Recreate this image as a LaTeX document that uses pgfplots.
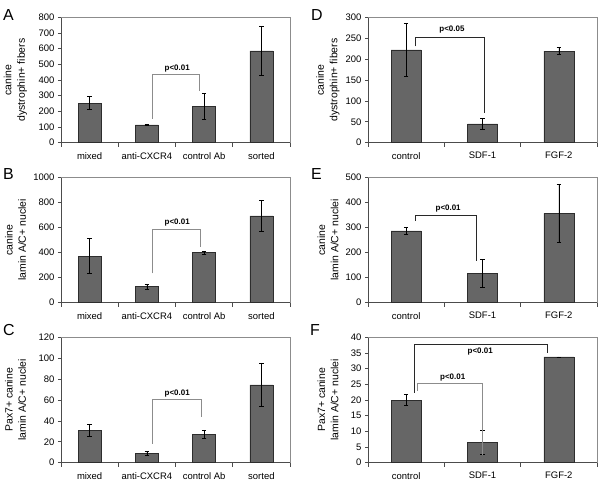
\documentclass[border=0pt]{standalone}
\usepackage{pgfplots}
\pgfplotsset{compat=1.18}
\usepackage{pgfplotstable}
\usepackage{fontspec}
\setmainfont{Liberation Sans}
\definecolor{barfill}{RGB}{102,102,102}
\definecolor{baredge}{RGB}{45,45,45}
\definecolor{brgray}{RGB}{140,140,140}
\definecolor{brdark}{RGB}{40,40,40}

\pgfplotstableread{
x y e
0 252 42
1 113 3
2 230 82
3 586 156
}\dataA
\pgfplotstableread{
x y e
0 372 139
1 128 21
2 398 12
3 691 123
}\dataB
\pgfplotstableread{
x y e
0 31 5.7
1 9 2
2 27 4
3 74.5 21
}\dataC
\pgfplotstableread{
x y e
0 222 63
1 45 14
2 219 8
}\dataD
\pgfplotstableread{
x y e
0 286 15
1 117 56
2 356 115
}\dataE
\pgfplotstableread{
x y e
0 19.9 1.75
1 6.4 3.8
2 33.7 0
}\dataF

\pgfplotsset{
  panel/.style={
    scale only axis, width=229bp, height=125.5bp,
    ymin=0, clip=false,
    axis x line*=bottom, axis y line*=left,
    axis line style={black!70, line width=0.6pt, -},
    tick style={black!70, line width=0.6pt},
    tick align=outside,
    major tick length=3bp, minor tick length=4bp,
    major x tick style={draw=none},
    /pgf/number format/assume math mode=true,
    /pgf/number format/1000 sep={},
    scaled y ticks=false,
    tick label style={font=\fontsize{9.5}{11}\selectfont},
    xticklabel style={yshift=-3bp},
  },
  leftcol/.style={panel, xmin=-0.5, xmax=3.5, xtick={0,1,2,3},
    minor xtick={-0.5,0.5,1.5,2.5,3.5},
    xticklabels={mixed,anti-CXCR4,control Ab,sorted},
    every axis y label/.style={at={([xshift=-45.5bp]axis description cs:0,0.5)}, rotate=90,
      anchor=center, align=center, font=\fontsize{10.5}{13.5}\selectfont}},
  rightcol/.style={panel, xmin=-0.5, xmax=2.5, xtick={0,1,2},
    minor xtick={-0.5,0.5,1.5,2.5},
    xticklabels={control,SDF-1,FGF-2},
    every axis y label/.style={at={([xshift=-40bp]axis description cs:0,0.5)}, rotate=90,
      anchor=center, align=center, font=\fontsize{10.5}{13.5}\selectfont}},
  barplot/.style={ybar, fill=barfill, draw=baredge, line width=0.5pt,
    error bars/.cd, y dir=both, y explicit,
    error mark=-,
    error bar style={black, line width=0.6pt},
    error mark options={rotate=90, black, line width=0.6pt, mark size=2.3bp}},
}
\newcommand{\pfont}{\fontsize{8}{9}\selectfont\bfseries}
\newcommand{\letfont}{\fontsize{16}{17}\selectfont}

\begin{document}
\begin{tikzpicture}
\path[use as bounding box] (0bp,0bp) rectangle (600bp,487bp);

% Panel letters
\node[anchor=base west, inner sep=0, font=\letfont] at (3bp,466.3bp) {A};
\node[anchor=base west, inner sep=0, font=\letfont] at (311bp,466.3bp) {D};
\node[anchor=base west, inner sep=0, font=\letfont] at (3bp,307.7bp) {B};
\node[anchor=base west, inner sep=0, font=\letfont] at (311bp,307.3bp) {E};
\node[anchor=base west, inner sep=0, font=\letfont] at (3bp,151bp) {C};
\node[anchor=base west, inner sep=0, font=\letfont] at (310bp,151bp) {F};

% A
\begin{axis}[leftcol, at={(61bp,344.3bp)}, anchor=south west,
  ymax=800, ytick={0,100,...,800}, bar width=23bp,
  ylabel={canine\\dystrophin+ fibers}]
\addplot[barplot] table[x=x,y=y,y error=e]{\dataA};
\draw[black!45, line width=0.6pt] (rel axis cs:0,1) -- (rel axis cs:1,1) -- (rel axis cs:1,0);
\draw[brgray, line width=0.7pt] (1.09,152) -- (1.09,438) -- (1.92,438) -- (1.92,328);
\node[font=\pfont, anchor=south, inner sep=1bp] at (1.53,442) {p<0.01};
\end{axis}

% B
\begin{axis}[leftcol, at={(61bp,184.3bp)}, anchor=south west,
  ymax=1000, ytick={0,200,...,1000}, bar width=23bp,
  ylabel={canine\\lamin A/C+ nuclei}]
\addplot[barplot] table[x=x,y=y,y error=e]{\dataB};
\draw[black!45, line width=0.6pt] (rel axis cs:0,1) -- (rel axis cs:1,1) -- (rel axis cs:1,0);
\draw[brgray, line width=0.7pt] (1.09,234) -- (1.09,588) -- (1.94,588) -- (1.94,441);
\node[font=\pfont, anchor=south, inner sep=1bp] at (1.53,598) {p<0.01};
\end{axis}

% C
\begin{axis}[leftcol, at={(61bp,24.3bp)}, anchor=south west,
  ymax=120, ytick={0,20,...,120}, bar width=23bp,
  ylabel={Pax7+ canine\\lamin A/C+ nuclei}]
\addplot[barplot] table[x=x,y=y,y error=e]{\dataC};
\draw[black!45, line width=0.6pt] (rel axis cs:0,1) -- (rel axis cs:1,1) -- (rel axis cs:1,0);
\draw[brgray, line width=0.7pt] (1.09,18) -- (1.09,60.6) -- (1.95,60.6) -- (1.95,44);
\node[font=\pfont, anchor=south, inner sep=1bp] at (1.53,62) {p<0.01};
\end{axis}

% D
\begin{axis}[rightcol, at={(368bp,344.3bp)}, anchor=south west,
  ymax=300, ytick={0,50,...,300}, bar width=30bp,
  ylabel={canine\\dystrophin+ fibers}]
\addplot[barplot] table[x=x,y=y,y error=e]{\dataD};
\draw[black!45, line width=0.6pt] (rel axis cs:0,1) -- (rel axis cs:1,1) -- (rel axis cs:1,0);
\draw[brdark, line width=0.7pt] (0.116,230) -- (0.116,252) -- (1.03,252) -- (1.03,71);
\node[font=\pfont, anchor=south, inner sep=1bp] at (0.6,258) {p<0.05};
\end{axis}

% E
\begin{axis}[rightcol, at={(368bp,184.3bp)}, anchor=south west,
  ymax=500, ytick={0,100,...,500}, bar width=30bp,
  ylabel={canine\\lamin A/C+ nuclei}]
\addplot[barplot] table[x=x,y=y,y error=e]{\dataE};
\draw[black!45, line width=0.6pt] (rel axis cs:0,1) -- (rel axis cs:1,1) -- (rel axis cs:1,0);
\draw[brdark, line width=0.7pt] (0.116,326) -- (0.116,348) -- (0.915,348) -- (0.915,168);
\node[font=\pfont, anchor=south, inner sep=1bp] at (0.55,356) {p<0.01};
\end{axis}

% F
\begin{axis}[rightcol, at={(368bp,24.3bp)}, anchor=south west,
  ymax=40, ytick={0,5,...,40}, bar width=30bp,
  ylabel={Pax7+ canine\\lamin A/C+ nuclei}]
\addplot[barplot] table[x=x,y=y,y error=e]{\dataF};
\draw[black!45, line width=0.6pt] (rel axis cs:0,1) -- (rel axis cs:1,1) -- (rel axis cs:1,0);
\draw[brdark, line width=0.7pt] (0.107,22.3) -- (0.107,37.7) -- (1.85,37.7) -- (1.85,35.1);
\node[font=\pfont, anchor=north, inner sep=1bp] at (0.97,37.1) {p<0.01};
\draw[brgray, line width=0.7pt] (0.146,23) -- (0.146,25.3) -- (1.0,25.3) -- (1.0,2.4);
\node[font=\pfont, anchor=south, inner sep=1bp] at (0.61,25.6) {p<0.01};
\end{axis}
\end{tikzpicture}
\end{document}
